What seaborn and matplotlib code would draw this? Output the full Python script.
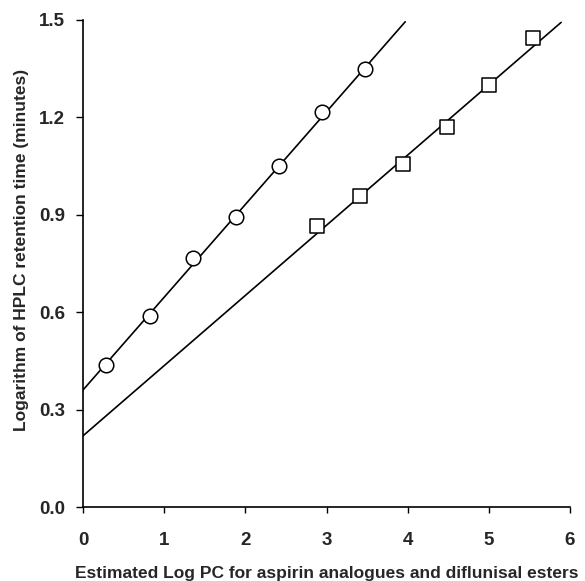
import matplotlib
matplotlib.use("Agg")
import matplotlib.pyplot as plt
import seaborn as sns
import pandas as pd

# Data
aspirin_logpc = [0.28, 0.82, 1.35, 1.88, 2.41, 2.94, 3.47]
aspirin_logrt = [0.437, 0.589, 0.767, 0.893, 1.050, 1.216, 1.348]
diflunisal_logpc = [2.88, 3.41, 3.94, 4.48, 5.00, 5.54]
diflunisal_logrt = [0.865, 0.957, 1.054, 1.169, 1.298, 1.442]

# Fitted lines (end points)
aspirin_fit_x = [0.0, 3.97]
aspirin_fit_y = [0.360, 1.493]
diflunisal_fit_x = [0.0, 5.89]
diflunisal_fit_y = [0.219, 1.491]

x_ticks = [0, 1, 2, 3, 4, 5, 6]
y_ticks = [0.0, 0.3, 0.6, 0.9, 1.2, 1.5]

sns.set_style("ticks")
plt.rcParams['font.family'] = ['Liberation Sans', 'DejaVu Sans']

fig = plt.figure(figsize=(5.85, 5.81), dpi=100)
ax = fig.add_axes([83/585, 74/581, 487/585, 487.5/581])

sns.lineplot(x=aspirin_fit_x, y=aspirin_fit_y, ax=ax, color='black', linewidth=1.2)
sns.lineplot(x=diflunisal_fit_x, y=diflunisal_fit_y, ax=ax, color='black', linewidth=1.2)

sns.scatterplot(x=aspirin_logpc, y=aspirin_logrt, ax=ax, marker='o', s=110,
                facecolor='white', edgecolor='black', linewidth=1.1, zorder=3)
sns.scatterplot(x=diflunisal_logpc, y=diflunisal_logrt, ax=ax, marker='s', s=100,
                facecolor='white', edgecolor='black', linewidth=1.1, zorder=3)

ax.set_xlim(0, 6)
ax.set_ylim(0, 1.5)
ax.set_xticks(x_ticks)
ax.set_yticks(y_ticks)
ax.set_xticklabels([str(t) for t in x_ticks], fontsize=13.5, fontweight='bold')
ax.set_yticklabels([f"{t:.1f}" for t in y_ticks], fontsize=13.5, fontweight='bold')
ax.tick_params(axis='x', direction='out', length=4, width=1, color='black', pad=14)
ax.tick_params(axis='y', direction='out', length=5, width=1, color='black', pad=8)
for s in ['top', 'right']:
    ax.spines[s].set_visible(False)
for s in ['left', 'bottom']:
    ax.spines[s].set_linewidth(1.2)
    ax.spines[s].set_color('black')

ax.set_xlabel("Estimated Log PC for aspirin analogues and diflunisal esters",
              fontsize=12.5, fontweight='bold', labelpad=12)
ax.set_ylabel("Logarithm of HPLC retention time (minutes)",
              fontsize=12.5, fontweight='bold')
ax.yaxis.set_label_coords(-0.111, 0.527)

fig.savefig("out.png", dpi=100)
